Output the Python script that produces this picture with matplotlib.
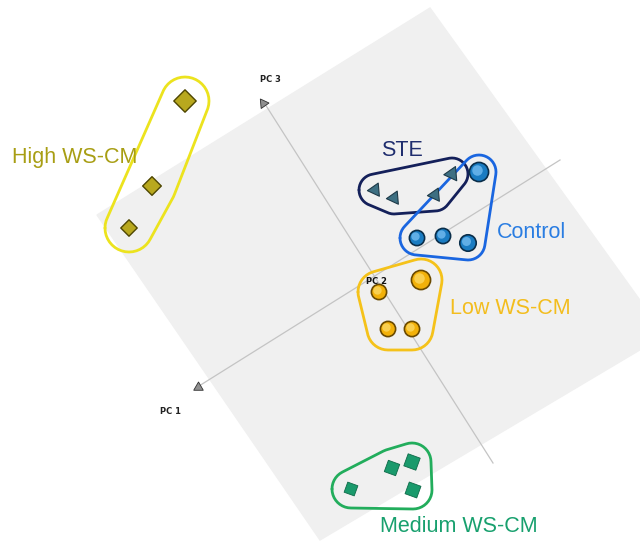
import matplotlib.pyplot as plt
import numpy as np

# projected PCA scores (screen position of each sample in the 3D view)
high_x = [185, 152, 129]
high_y = [101, 186, 228]
ste_x = [375, 394, 435, 452]
ste_y = [190, 198, 195, 174]
control_x = [479, 417, 443, 468]
control_y = [172, 238, 236, 243]
low_x = [421, 379, 388, 412]
low_y = [280, 292, 329, 329]
medium_x = [351, 392, 412, 413]
medium_y = [489, 468, 462, 490]

group_names = ["High WS-CM", "STE", "Control", "Low WS-CM", "Medium WS-CM"]

# view decorations: plane corners and PC axis lines
plane_x = [97, 430, 665, 320]
plane_y = [215, 8, 335, 540]
pc3_line = ([265, 493], [104, 463])
pc1_line = ([199, 560], [386, 160])


def hull(px, py, r):
    t = np.linspace(0, 2 * np.pi, 40, endpoint=False)
    pts = [(x + r * np.cos(a), y + r * np.sin(a)) for x, y in zip(px, py) for a in t]
    pts = sorted(pts)

    def cross(o, a, b):
        return (a[0] - o[0]) * (b[1] - o[1]) - (a[1] - o[1]) * (b[0] - o[0])

    lower, upper = [], []
    for p in pts:
        while len(lower) >= 2 and cross(lower[-2], lower[-1], p) <= 0:
            lower.pop()
        lower.append(p)
    for p in reversed(pts):
        while len(upper) >= 2 and cross(upper[-2], upper[-1], p) <= 0:
            upper.pop()
        upper.append(p)
    h = lower[:-1] + upper[:-1] + [lower[0]]
    return [p[0] for p in h], [p[1] for p in h]


def spheres(xs, ys, sizes, base, dark, light):
    ax.scatter(xs, ys, s=sizes, marker='o', c=base, edgecolors=dark, linewidths=1.2, zorder=4)
    ax.scatter(np.array(xs) - 1.5, np.array(ys) - 1.5, s=np.array(sizes) * 0.3,
               marker='o', c=light, edgecolors='none', alpha=0.6, zorder=5)


fig = plt.figure(figsize=(6.4, 5.52), dpi=100)
ax = fig.add_axes([0, 0, 1, 1])
ax.set_xlim(0, 640)
ax.set_ylim(552, 0)
ax.axis('off')

ax.fill(plane_x, plane_y, color='#f0f0f0', zorder=0)
ax.plot(*pc3_line, color='#c4c4c4', lw=0.9, zorder=1)
ax.plot(*pc1_line, color='#c4c4c4', lw=0.9, zorder=1)
ax.plot(263, 103, marker=(3, 0, 35), ms=8, color='#909090', mec='#303030', mew=0.6, zorder=2)
ax.plot(198, 387, marker=(3, 0, 120), ms=8, color='#909090', mec='#303030', mew=0.6, zorder=2)
ax.text(260, 79, "PC 3", fontsize=6, fontweight='bold', color='#222222', ha='left', va='center')
ax.text(160, 411, "PC 1", fontsize=6, fontweight='bold', color='#222222', ha='left', va='center')

# group outlines
outlines = [
    (high_x, high_y, 24, '#ece31e'),
    (ste_x, ste_y, 16, '#14205a'),
    (control_x, control_y, 17, '#1a66e0'),
    (low_x, low_y, 21, '#f5c21a'),
    (medium_x, medium_y, 19, '#22ad5c'),
]
for gx, gy, r, c in outlines:
    hx, hy = hull(gx, gy, r)
    ax.plot(hx, hy, color=c, lw=2.0, solid_capstyle='round', zorder=3)

# samples
ax.scatter(high_x, high_y, s=[130, 90, 70], marker='D', c='#b8a81e',
           edgecolors='#4e4600', linewidths=1.0, zorder=4)
ax.scatter(ste_x, ste_y, s=[120, 120, 120, 140], marker=(3, 0, 95), c='#3d6f82',
           edgecolors='#1e3a48', linewidths=0.8, zorder=4)
spheres(control_x, control_y, [190, 120, 120, 140], '#1a7cc2', '#0a2e4a', '#8fd0ff')
spheres(low_x, low_y, [190, 120, 120, 120], '#f2b10a', '#6a4a00', '#ffe680')
ax.scatter(medium_x, medium_y, s=[120, 150, 170, 160], marker=(4, 0, 25), c='#1a9a6c',
           edgecolors='#0e6a48', linewidths=0.6, zorder=4)

ax.text(376, 282, "PC 2", fontsize=6, fontweight='bold', color='#111111', ha='center', va='center', zorder=6)

# group labels
label_font = dict(fontsize=15.5, family=['Liberation Sans', 'DejaVu Sans'], va='center')
ax.text(12, 158, group_names[0], color='#a89e14', ha='left', **label_font)
ax.text(402, 151, group_names[1], color='#1f2d6e', ha='center', **label_font)
ax.text(497, 233, group_names[2], color='#2a7de2', ha='left', **label_font)
ax.text(450, 308, group_names[3], color='#f3bd1e', ha='left', **label_font)
ax.text(380, 527, group_names[4], color='#18a06e', ha='left', **label_font)

fig.savefig("out.png", dpi=100)
